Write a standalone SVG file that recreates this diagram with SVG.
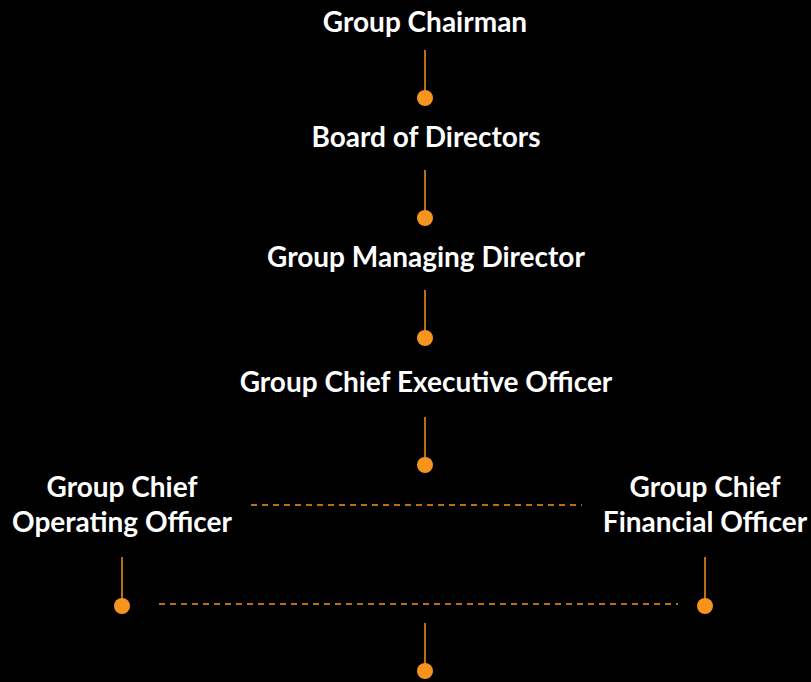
<svg xmlns="http://www.w3.org/2000/svg" width="811" height="682" viewBox="0 0 811 682">
<style>
.t{font-family:"Lato","Open Sans",sans-serif;font-weight:bold;font-size:28px;fill:#ffffff;text-anchor:middle}
.ln{stroke:#F7941D;stroke-width:1.5;fill:none}
.ds{stroke:#F7941D;stroke-width:1.5;fill:none;stroke-dasharray:6 5}
.dot{fill:#F7941D}
</style>
<rect width="811" height="682" fill="#000000"/>
<g id="connectors">
<line class="ln" x1="425" y1="50" x2="425" y2="92"/>
<circle class="dot" cx="425" cy="98" r="8"/>
<line class="ln" x1="425" y1="170" x2="425" y2="212"/>
<circle class="dot" cx="425" cy="218" r="8"/>
<line class="ln" x1="425" y1="290" x2="425" y2="332"/>
<circle class="dot" cx="425" cy="338" r="8"/>
<line class="ln" x1="425" y1="417" x2="425" y2="459"/>
<circle class="dot" cx="425" cy="465" r="8"/>
<line class="ds" x1="251" y1="505" x2="582" y2="505"/>
<line class="ln" x1="122" y1="557" x2="122" y2="600"/>
<circle class="dot" cx="122" cy="606" r="8"/>
<line class="ln" x1="705" y1="557" x2="705" y2="600"/>
<circle class="dot" cx="705" cy="606" r="8"/>
<line class="ds" x1="159" y1="604" x2="678" y2="604"/>
<line class="ln" x1="425" y1="623" x2="425" y2="665"/>
<circle class="dot" cx="425" cy="671" r="8"/>
</g>
<g id="chairman"><text class="t" x="425" y="32">Group Chairman</text></g>
<g id="board"><text class="t" x="426" y="147">Board of Directors</text></g>
<g id="gmd"><text class="t" x="426" y="267">Group Managing Director</text></g>
<g id="gceo"><text class="t" x="426" y="392">Group Chief Executive Officer</text></g>
<g id="gcoo"><text class="t" x="122" y="497">Group Chief</text><text class="t" x="122" y="532">Operating Officer</text></g>
<g id="gcfo"><text class="t" x="705" y="497">Group Chief</text><text class="t" x="705" y="532">Financial Officer</text></g>
</svg>
